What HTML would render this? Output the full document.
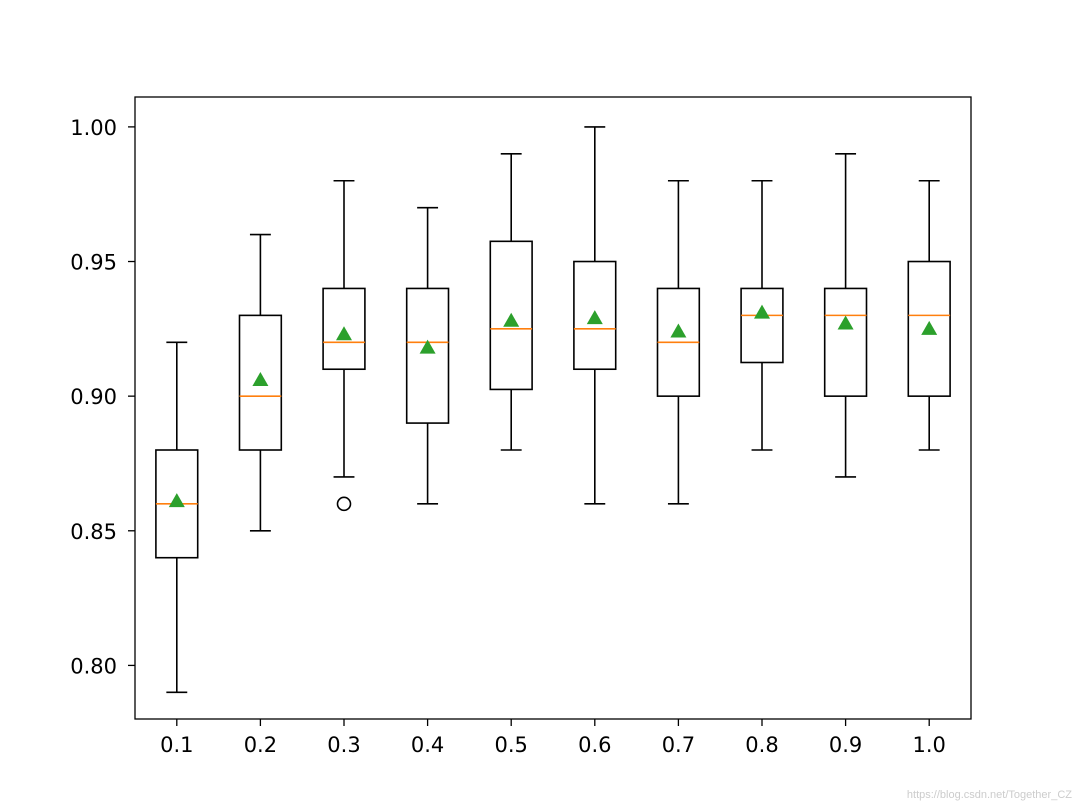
<!DOCTYPE html>
<html><head><meta charset="utf-8"><style>
body{margin:0;background:#fff;}
svg{display:block;font-family:"DejaVu Sans","Liberation Sans",sans-serif;}
</style></head><body>
<svg id="chart" width="1080" height="810" viewBox="0 0 1080 810">
<rect x="0" y="0" width="1080" height="810" fill="#fff"/>
<g id="marks"></g>
<rect x="135" y="97" width="836" height="622" fill="none" stroke="#000" stroke-width="1.3"/>
<g id="axes"></g>
<text x="1072" y="798" text-anchor="end" font-size="11" fill="#ccc" font-family="Liberation Sans, sans-serif">https://blog.csdn.net/Together_CZ</text>
</svg>
<script>
const categories=["0.1","0.2","0.3","0.4","0.5","0.6","0.7","0.8","0.9","1.0"];
const whiskerLow=[0.79,0.85,0.87,0.86,0.88,0.86,0.86,0.88,0.87,0.88];
const q1=[0.84,0.88,0.91,0.89,0.9025,0.91,0.90,0.9125,0.90,0.90];
const median=[0.86,0.90,0.92,0.92,0.925,0.925,0.92,0.93,0.93,0.93];
const q3=[0.88,0.93,0.94,0.94,0.9575,0.95,0.94,0.94,0.94,0.95];
const whiskerHigh=[0.92,0.96,0.98,0.97,0.99,1.00,0.98,0.98,0.99,0.98];
const means=[0.861,0.906,0.923,0.918,0.928,0.929,0.924,0.931,0.927,0.925];
const outliers=[[],[],[0.86],[],[],[],[],[],[],[]];
const yTicks=[0.80,0.85,0.90,0.95,1.00];

const L=135,R=971,T=97,B=719,ymin=0.7801,ymax=1.0111;
const xs=i=>L+(i+0.5)*(R-L)/categories.length;
const ys=v=>B-(v-ymin)/(ymax-ymin)*(B-T);
const NS="http://www.w3.org/2000/svg";
function mk(parent,tag,attrs){const e=document.createElementNS(NS,tag);for(const k in attrs)e.setAttribute(k,attrs[k]);parent.appendChild(e);return e;}
const marks=document.getElementById('marks'),axes=document.getElementById('axes');
const bw=(R-L)/categories.length*0.5;
categories.forEach((c,i)=>{
  const x=xs(i);
  const g=mk(marks,'g',{});
  
  
  const ln=(x1,y1,x2,y2,col,n)=>{const e=mk(g,'line',{x1,y1,x2,y2,stroke:col,'stroke-width':1.6});};
  ln(x,ys(whiskerLow[i]),x,ys(q1[i]),'#000','lower-whisker');
  ln(x,ys(q3[i]),x,ys(whiskerHigh[i]),'#000','upper-whisker');
  ln(x-bw/4,ys(whiskerLow[i]),x+bw/4,ys(whiskerLow[i]),'#000','lower-cap');
  ln(x-bw/4,ys(whiskerHigh[i]),x+bw/4,ys(whiskerHigh[i]),'#000','upper-cap');
  const r=mk(g,'rect',{x:x-bw/2,y:ys(q3[i]),width:bw,height:ys(q1[i])-ys(q3[i]),fill:'none',stroke:'#000','stroke-width':1.6});
  
  
  ln(x-bw/2,ys(median[i]),x+bw/2,ys(median[i]),'#ff7f0e','median-line');
  const my=ys(means[i]);
  const t=mk(g,'polygon',{points:`${x},${my-8} ${x-8},${my+6} ${x+8},${my+6}`,fill:'#2ca02c'});
  
  
  outliers[i].forEach(v=>{const o=mk(g,'circle',{cx:x,cy:ys(v),r:6.5,fill:'none',stroke:'#000','stroke-width':1.6});
    
    });
  const tk=mk(axes,'line',{x1:x,y1:B,x2:x,y2:B+7,stroke:'#000','stroke-width':1.3});
  
  
  const tx=mk(axes,'text',{x:x,y:B+33,'text-anchor':'middle','font-size':21,fill:'#000'});
  tx.textContent=c;
  
  
});
yTicks.forEach(v=>{
  const y=ys(v);
  const tk=mk(axes,'line',{x1:L-7,y1:y,x2:L,y2:y,stroke:'#000','stroke-width':1.3});
  
  
  const tx=mk(axes,'text',{x:L-18,y:y+8,'text-anchor':'end','font-size':21,fill:'#000'});
  tx.textContent=v.toFixed(2);
  
  
});
</script>
</body></html>
